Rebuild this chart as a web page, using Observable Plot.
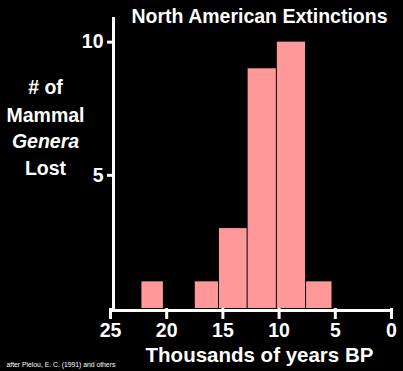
<!DOCTYPE html>
<html><head><meta charset="utf-8">
<script src="https://cdn.jsdelivr.net/npm/d3@7"></script>
<script src="https://cdn.jsdelivr.net/npm/@observablehq/plot@0.6"></script>
<style>html,body{margin:0;padding:0;background:#000;overflow:hidden}</style>
</head><body><div id="chart"></div>
<script>
const binStart = [22.25, 17.5, 15.35, 12.8, 10.2, 7.6];
const binEnd = [20.25, 15.35, 12.8, 10.2, 7.6, 5.25];
const generaLost = [1, 1, 3, 9, 10, 1];
const xTicks = [25, 20, 15, 10, 5, 0];
const yTicks = [5, 10];
const title = "North American Extinctions";
const xTitle = "Thousands of years BP";
const yTitleLines = ["# of", "Mammal", "Genera", "Lost"];
const yTitleItalic = [false, false, true, false];
const caption = "after Pielou, E. C. (1991) and others";

const bars = generaLost.map((n, i) => ({x1: binStart[i], x2: binEnd[i], n}));
const font = "'Liberation Sans', Arial, Helvetica, sans-serif";
const lineOffsets = [72, 100, 126, 153];

const yTitleMarks = yTitleLines.map((t, i) => Plot.text([t], {
  text: d => d, frameAnchor: "top-left", dx: -65, dy: lineOffsets[i], lineAnchor: "middle",
  textAnchor: "middle", fontSize: 19.5, fontWeight: "bold", fontStyle: yTitleItalic[i] ? "italic" : "normal", fill: "#fff"
}));

const plot = Plot.plot({
  width: 403, height: 371,
  marginLeft: 110, marginRight: 12, marginTop: 15, marginBottom: 63,
  style: {background: "#000", color: "#fff", fontFamily: font, overflow: "visible"},
  x: {domain: [25, 0], axis: null},
  y: {domain: [0, 11], axis: null},
  marks: [
    Plot.rect(bars, {x1: "x1", x2: "x2", y1: 0, y2: "n", fill: "#ff9999", insetLeft: 0.5, insetRight: 0.5}),
    Plot.ruleX([25], {y1: 0, y2: 11, stroke: "#fff", strokeWidth: 3, dx: 3, dy: 2}),
    Plot.ruleY([0], {x1: 25, x2: 0, stroke: "#fff", strokeWidth: 3, dy: 2}),
    Plot.axisX({ticks: xTicks, tickSize: 11, tickPadding: 4, strokeWidth: 3, fontSize: 19.5, fontWeight: "bold", label: null}),
    Plot.axisY({ticks: yTicks, tickSize: 6, tickPadding: 4, strokeWidth: 3, dx: 3, fontSize: 19.5, fontWeight: "bold", label: null}),
    Plot.text([title], {text: d => d, frameAnchor: "top", dx: 8.5, dy: -6, lineAnchor: "top", fontSize: 19.5, fontWeight: "bold", fill: "#fff"}),
    Plot.text([xTitle], {text: d => d, frameAnchor: "bottom", dx: 8.5, dy: 47, lineAnchor: "middle", fontSize: 20.5, fontWeight: "bold", fill: "#fff"}),
    Plot.text([caption], {text: d => d, frameAnchor: "bottom-left", dx: -104, dy: 56, lineAnchor: "middle", textAnchor: "start", fontSize: 6.8, fill: "#fff"}),
    ...yTitleMarks
  ]
});
document.getElementById("chart").appendChild(plot);
</script>
</body></html>
